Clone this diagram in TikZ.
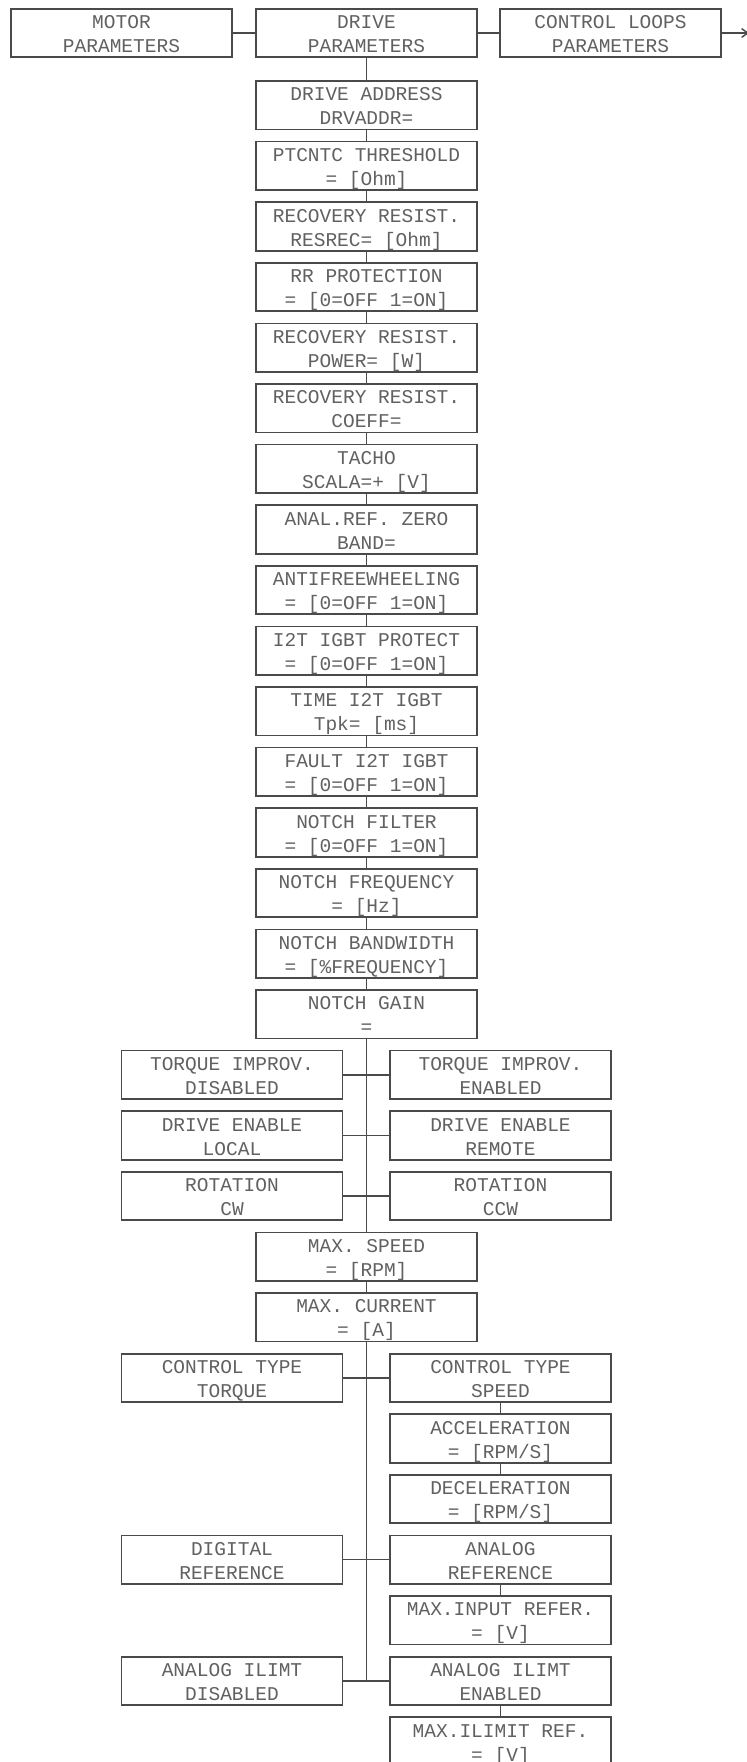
\documentclass[tikz,border=0pt]{standalone}
\usepackage{fontspec}
\usepackage{tikz}
\usetikzlibrary{arrows.meta,positioning,calc}
\newfontfamily\cadfont{Liberation Mono}
\definecolor{CadLine}{HTML}{4A4A4A}
\definecolor{CadText}{HTML}{616161}
% fixed top and bottom room for the two text lines of a box
\newcommand{\cadlines}[1]{\rule{0pt}{11.3pt}#1\rule[-2.6pt]{0pt}{2.6pt}}
\tikzset{
  parbox/.style={draw=CadLine, line width=1pt, minimum width=4.42cm, minimum height=0.97cm,
    inner sep=0pt, align=center, text=CadText, font=\cadfont\fontsize{11.1pt}{13.7pt}\selectfont},
  wire/.style={draw=CadLine, line width=0.8pt}
}

\begin{document}
\begin{tikzpicture}[x=0.02cm, y=-0.02cm]
\fill[white] (0,0) rectangle (747,1762);
\useasboundingbox (0,0) rectangle (747,1762);

% Menu row (top)
\node[parbox] (motor) at (121.5,33) {\cadlines{MOTOR\\PARAMETERS}};
\node[parbox] (drive) at (366.5,33) {\cadlines{DRIVE\\PARAMETERS}};
\node[parbox] (loops) at (610.5,33) {\cadlines{CONTROL LOOPS\\PARAMETERS}};
\coordinate (nextpage) at (749,33);

% Drive parameters (centre column)
\foreach \i/\nm/\txt in {
  0/addr/{DRIVE ADDRESS\\DRVADDR=},
  1/ptc/{PTCNTC THRESHOLD\\= [Ohm]},
  2/resrec/{RECOVERY RESIST.\\RESREC= [Ohm]},
  3/rrprot/{RR PROTECTION\\= [0=OFF 1=ON]},
  4/rrpower/{RECOVERY RESIST.\\POWER= [W]},
  5/rrcoeff/{RECOVERY RESIST.\\COEFF=},
  6/tacho/{TACHO\\SCALA=+ [V]},
  7/zeroband/{ANAL.REF. ZERO\\BAND=},
  8/antifw/{ANTIFREEWHEELING\\= [0=OFF 1=ON]},
  9/igbtprot/{I2T IGBT PROTECT\\= [0=OFF 1=ON]},
  10/igbttime/{TIME I2T IGBT\\Tpk= [ms]},
  11/igbtfault/{FAULT I2T IGBT\\= [0=OFF 1=ON]},
  12/notchfilt/{NOTCH FILTER\\= [0=OFF 1=ON]},
  13/notchfreq/{NOTCH FREQUENCY\\= [Hz]},
  14/notchbw/{NOTCH BANDWIDTH\\= [\%FREQUENCY]},
  15/notchgain/{NOTCH GAIN\\=},
  19/maxspeed/{MAX. SPEED\\= [RPM]},
  20/maxcurr/{MAX. CURRENT\\= [A]}} {
  \node[parbox] (\nm) at (366.5,105.25+60.6*\i) {\cadlines{\txt}};
}

% Choices (left column)
\foreach \i/\nm/\txt in {
  16/torqL/{TORQUE IMPROV.\\DISABLED},
  17/enL/{DRIVE ENABLE\\LOCAL},
  18/rotL/{ROTATION\\CW},
  21/ctrlL/{CONTROL TYPE\\TORQUE},
  24/refL/{DIGITAL\\REFERENCE},
  26/ilimL/{ANALOG ILIMT\\DISABLED}} {
  \node[parbox] (\nm) at (232,105.25+60.6*\i) {\cadlines{\txt}};
}

% Choices (right column)
\foreach \i/\nm/\txt in {
  16/torqR/{TORQUE IMPROV.\\ENABLED},
  17/enR/{DRIVE ENABLE\\REMOTE},
  18/rotR/{ROTATION\\CCW},
  21/ctrlR/{CONTROL TYPE\\SPEED},
  22/accel/{ACCELERATION\\= [RPM/S]},
  23/decel/{DECELERATION\\= [RPM/S]},
  24/refR/{ANALOG\\REFERENCE},
  25/maxinput/{MAX.INPUT REFER.\\= [V]},
  26/ilimR/{ANALOG ILIMT\\ENABLED},
  27/maxilim/{MAX.ILIMIT REF.\\= [V]}} {
  \node[parbox] (\nm) at (500.5,105.25+60.6*\i) {\cadlines{\txt}};
}

% Connectors
\draw[wire] (motor) -- (drive) -- (loops);
\draw[wire, -{Straight Barb[length=3.5pt, width=5pt]}] (loops) -- (nextpage);
\draw[wire] (drive) -- (addr) -- (ptc) -- (resrec) -- (rrprot) -- (rrpower) -- (rrcoeff)
  -- (tacho) -- (zeroband) -- (antifw) -- (igbtprot) -- (igbttime) -- (igbtfault)
  -- (notchfilt) -- (notchfreq) -- (notchbw) -- (notchgain) -- (maxspeed) -- (maxcurr);
\coordinate (ilimjoin) at (maxcurr |- ilimL);
\draw[wire] (maxcurr) -- (ilimjoin);
\foreach \l/\r in {torqL/torqR, enL/enR, rotL/rotR, ctrlL/ctrlR, refL/refR, ilimL/ilimR}
  \draw[wire] (\l) -- (\r);
\draw[wire] (ctrlR) -- (accel) -- (decel);
\draw[wire] (refR) -- (maxinput);
\draw[wire] (ilimR) -- (maxilim);
\end{tikzpicture}
\end{document}
